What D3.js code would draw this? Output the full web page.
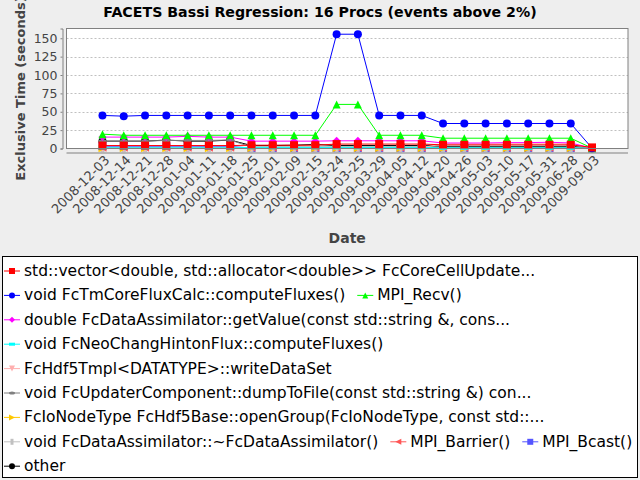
<!DOCTYPE html>
<html>
<head>
<meta charset="utf-8">
<script src="https://cdn.jsdelivr.net/npm/d3@7"></script>
<style>
  body { margin: 0; background: #eeeeee; }
  text { font-family: "DejaVu Sans", sans-serif; }
</style>
</head>
<body>
<div id="chart"></div>
<script>
// Categories (dates)
const dates = ['2008-12-03','2008-12-14','2008-12-21','2008-12-28','2009-01-04','2009-01-11',
  '2009-01-18','2009-01-25','2009-02-01','2009-02-09','2009-02-15','2009-03-24','2009-03-25',
  '2009-03-29','2009-04-05','2009-04-12','2009-04-20','2009-04-26','2009-05-03','2009-05-10',
  '2009-05-17','2009-05-31','2009-06-28','2009-09-03'];

// Series values (seconds)
const stdVector   = [4,4,4,4,4,4,4,4.5,4.5,4.5,4.5,6,6,6,6,6,5,5,5,5,5,5,5,1.5];
const fluxCalc    = [45,44,45,45,45,45,45,45,45,45,45,155.5,155.5,45,45,45,34,34,34,34,34,34,34,0.5];
const recv        = [19.5,18,18,18,18,18,18,18,18,18,18,60,60,18,18,18,14,14,14,14,14,14,14,0.5];
const getValue    = [15.5,15.5,15.5,15.5,16.5,15.5,15.5,10,10,10,10,10.5,10.5,10.5,10.5,10.5,7.5,7.5,7.5,8,8,8.5,7.5,0.5];
const neoChang    = [1,1,1,1,1,1,1,1.5,1.5,1.5,1.5,1.5,1.5,1.5,1.5,1.5,1,1,1,1,1,1,1,0.3];
const writeData   = [0.8,0.8,0.8,0.8,0.8,0.8,0.8,0.8,0.8,0.8,0.8,0.8,0.8,0.8,0.8,0.8,6.5,6.5,6.5,6.5,6.5,6.5,6.5,0.5];
const dumpToFile  = [10,10,10,11,11,11,11.5,2,2,2,2,2,2,2,2,2,1.5,1.5,1.5,1.5,1.5,1.5,1.5,0.3];
const openGroup   = [0.5,0.5,0.5,0.5,0.5,0.5,0.5,0.5,0.5,0.5,0.5,0.5,0.5,0.5,0.5,0.5,0.5,0.5,0.5,0.5,0.5,0.5,0.5,0.2];
const dtor        = [0.5,0.5,0.5,0.5,0.5,0.5,0.5,0.5,0.5,0.5,0.5,0.5,0.5,0.5,0.5,0.5,0.5,0.5,0.5,0.5,0.5,0.5,0.5,0.2];
const barrier     = [1,1,1,1,1,1,1,1,1,1,1,1,1,1,1,1,1,1,1,1,1,1,1,0.3];
const bcast       = [3,3,3,3,3,3,3,0.5,0.5,0.5,0.5,0.5,0.5,0.5,0.5,0.5,0.5,0.5,0.5,0.5,0.5,0.5,0.5,0.2];
const other       = [10,10,10,11.5,10,10,11.5,4,4,4.5,5.5,4,4,4,4,4,3,3,3,3,3,3,3,0.3];

const seriesNames = [
  'std::vector<double, std::allocator<double>> FcCoreCellUpdate...',
  'void FcTmCoreFluxCalc::computeFluxes()',
  'MPI_Recv()',
  'double FcDataAssimilator::getValue(const std::string &, cons...',
  'void FcNeoChangHintonFlux::computeFluxes()',
  'FcHdf5Tmpl<DATATYPE>::writeDataSet',
  'void FcUpdaterComponent::dumpToFile(const std::string &) con...',
  'FcIoNodeType FcHdf5Base::openGroup(FcIoNodeType, const std::...',
  'void FcDataAssimilator::~FcDataAssimilator()',
  'MPI_Barrier()',
  'MPI_Bcast()',
  'other'
];
const seriesValues = [stdVector, fluxCalc, recv, getValue, neoChang, writeData,
  dumpToFile, openGroup, dtor, barrier, bcast, other];
const seriesColors = ['#ff0000','#0000ff','#00ff00','#ff00ff','#00ffff','#ffafaf',
  '#808080','#ffc800','#c0c0c0','#ff5555','#5555ff','#000000'];
const shapeKinds = ['square','circle','up','diamond','hrect','down','hellipse','right',
  'vrect','left','square','circle'];

const W = 640, H = 480;
const plot = { left: 66.5, top: 28.5, right: 628, bottom: 148.5 };

const svg = d3.select('#chart').append('svg')
  .attr('width', W).attr('height', H)
  .style('display', 'block');

svg.append('rect').attr('width', W).attr('height', H).attr('fill', '#eeeeee');

// shape path for marker, half size h
function shapePath(kind, h) {
  switch (kind) {
    case 'square': return `M${-h},${-h}H${h}V${h}H${-h}Z`;
    case 'circle': return `M${-h},0A${h},${h} 0 1,0 ${h},0A${h},${h} 0 1,0 ${-h},0Z`;
    case 'up': return `M0,${-h}L${h},${h}L${-h},${h}Z`;
    case 'down': return `M${-h},${-h}L${h},${-h}L0,${h}Z`;
    case 'right': return `M${-h},${-h}L${h},0L${-h},${h}Z`;
    case 'left': return `M${h},${-h}L${-h},0L${h},${h}Z`;
    case 'diamond': return `M0,${-h}L${h},0L0,${h}L${-h},0Z`;
    case 'hrect': return `M${-h},${-h/2}H${h}V${h/2}H${-h}Z`;
    case 'vrect': return `M${-h/2},${-h}H${h/2}V${h}H${-h/2}Z`;
    case 'hellipse': return `M${-h},0A${h},${h/2} 0 1,0 ${h},0A${h},${h/2} 0 1,0 ${-h},0Z`;
  }
}

// Scales
const x = d3.scalePoint()
  .domain(dates)
  .range([plot.left, plot.right])
  .padding(1.69);

const yMax = d3.max(seriesValues.flat()) * 1.05;
const y = d3.scaleLinear()
  .domain([0, yMax])
  .range([plot.bottom, plot.top]);

// Plot background
svg.append('rect')
  .attr('x', plot.left).attr('y', plot.top)
  .attr('width', plot.right - plot.left).attr('height', plot.bottom - plot.top)
  .attr('fill', '#ffffff');

// Gridlines
const yTicks = d3.range(0, yMax, 25);
svg.append('g').selectAll('line')
  .data(yTicks.filter(d => d > 0))
  .enter().append('line')
  .attr('x1', plot.left).attr('x2', plot.right)
  .attr('y1', d => Math.round(y(d)) + 0.5).attr('y2', d => Math.round(y(d)) + 0.5)
  .attr('stroke', '#c0c0c0')
  .attr('stroke-dasharray', '2,2');

// Series lines & markers (series 0 drawn last, on top)
const order = d3.range(seriesValues.length).reverse();
const line = d3.line()
  .x((d, i) => x(dates[i]))
  .y(d => y(d));

order.forEach(s => {
  const g = svg.append('g');
  g.append('path')
    .datum(seriesValues[s])
    .attr('d', line)
    .attr('fill', 'none')
    .attr('stroke', seriesColors[s])
    .attr('stroke-width', 1);
  g.selectAll('path.m')
    .data(seriesValues[s])
    .enter().append('path')
    .attr('class', 'm')
    .attr('transform', (d, i) => `translate(${x(dates[i])},${y(d)})`)
    .attr('d', shapePath(shapeKinds[s], 4))
    .attr('fill', seriesColors[s]);
});

// Plot border
svg.append('rect')
  .attr('x', plot.left).attr('y', plot.top)
  .attr('width', plot.right - plot.left).attr('height', plot.bottom - plot.top)
  .attr('fill', 'none')
  .attr('stroke', '#808080');

// Y axis (offset a few px left of the plot)
const yAxis = svg.append('g')
  .attr('transform', `translate(${plot.left - 4},0)`)
  .call(d3.axisLeft(y).tickValues(yTicks).tickSize(2).tickPadding(3));
yAxis.select('.domain').attr('stroke', '#808080');
yAxis.selectAll('.tick line').attr('stroke', '#808080');
yAxis.selectAll('text')
  .style('font-family', '"DejaVu Sans", sans-serif')
  .style('font-size', '12.5px')
  .attr('fill', '#444444');

// X axis
const xAxis = svg.append('g')
  .attr('transform', `translate(0,${plot.bottom + 4})`)
  .call(d3.axisBottom(x).tickSize(0).tickSizeOuter(0).tickPadding(0));
xAxis.select('.domain')
  .attr('stroke', '#808080')
  .attr('d', `M${plot.left},0.5H${plot.right}`);
xAxis.selectAll('text')
  .style('font-family', '"DejaVu Sans", sans-serif')
  .style('font-size', '13px')
  .attr('fill', '#444444')
  .attr('dy', null)
  .attr('y', 0)
  .attr('transform', 'translate(5,6) rotate(-45)')
  .style('text-anchor', 'end')
  .attr('dominant-baseline', 'middle');

// Title
svg.append('text')
  .attr('x', 320).attr('y', 17)
  .attr('text-anchor', 'middle')
  .style('font-size', '14.2px')
  .style('font-weight', 'bold')
  .attr('fill', '#000000')
  .text('FACETS Bassi Regression: 16 Procs (events above 2%)');

// Axis titles
svg.append('text')
  .attr('transform', `translate(25,${(plot.top + plot.bottom) / 2}) rotate(-90)`)
  .attr('text-anchor', 'middle')
  .style('font-size', '13px')
  .style('font-weight', 'bold')
  .attr('fill', '#444444')
  .text('Exclusive Time (seconds)');

svg.append('text')
  .attr('x', (plot.left + plot.right) / 2).attr('y', 243)
  .attr('text-anchor', 'middle')
  .style('font-size', '14px')
  .style('font-weight', 'bold')
  .attr('fill', '#444444')
  .text('Date');

// Legend
const legend = { left: 2.5, top: 256.5, right: 637.5, bottom: 477.5 };
svg.append('rect')
  .attr('x', legend.left).attr('y', legend.top)
  .attr('width', legend.right - legend.left).attr('height', legend.bottom - legend.top)
  .attr('fill', '#ffffff').attr('stroke', '#000000');

const rowH = 24.4;
let lx = 4, row = 0;
seriesNames.forEach((name, s) => {
  const g = svg.append('g');
  const t = g.append('text')
    .attr('x', 20).attr('y', 0)
    .attr('dominant-baseline', 'central')
    .style('font-size', '15.5px')
    .attr('fill', '#000000')
    .text(name);
  const w = 20 + t.node().getComputedTextLength();
  if (lx + w > legend.right - 4 && lx > 4) { row += 1; lx = 4; }
  g.attr('transform', `translate(${lx},${legend.top + 14.5 + row * rowH})`);
  g.append('line')
    .attr('x1', 0).attr('x2', 16).attr('y1', 0).attr('y2', 0)
    .attr('stroke', seriesColors[s]);
  g.append('path')
    .attr('transform', 'translate(8,0)')
    .attr('d', shapePath(shapeKinds[s], 3))
    .attr('fill', seriesColors[s]);
  lx += w + 12;
});
</script>
</body>
</html>
